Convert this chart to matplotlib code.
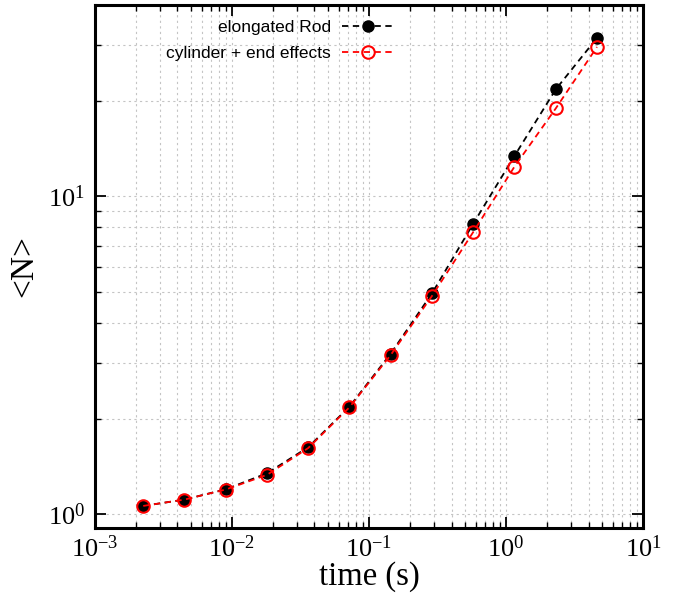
import matplotlib
matplotlib.use("Agg")
import matplotlib.pyplot as plt
from matplotlib.ticker import LogLocator, NullFormatter

# time steps (s)
time = [0.00225, 0.0045, 0.009, 0.018, 0.036, 0.072, 0.144, 0.288, 0.576, 1.152, 2.304, 4.608]
# <N> for the two models
rod = [1.062, 1.112, 1.198, 1.345, 1.625, 2.18, 3.2, 4.95, 8.2, 13.4, 21.7, 31.5]
cyl = [1.062, 1.112, 1.196, 1.33, 1.615, 2.17, 3.17, 4.86, 7.72, 12.4, 18.9, 29.5]

plt.rcParams['mathtext.fontset'] = 'stix'
plt.rcParams['axes.unicode_minus'] = False
plt.rcParams['font.family'] = ['Liberation Serif', 'DejaVu Serif']

fig = plt.figure(figsize=(6.75, 5.93), dpi=100)
ax = fig.add_axes([0.1407, 0.1096, 0.812, 0.8820])

ax.set_axisbelow(True)
ax.grid(True, which='both', linestyle=(0, (2, 3)), color='#c4c4c4', linewidth=0.8)

ax.plot(time, rod, linestyle=(0, (3.5, 2.5)), color='black', linewidth=1.3,
        marker='o', markersize=8, markerfacecolor='black', markeredgecolor='black',
        label='elongated Rod', zorder=3)
ax.plot(time, cyl, linestyle=(0, (3.5, 2.5)), color='#ff0000', linewidth=1.3,
        marker='o', markersize=9, markerfacecolor='none', markeredgecolor='#ff0000',
        markeredgewidth=1.5, label='cylinder + end effects', zorder=4)

ax.set_xscale('log')
ax.set_yscale('log')
ax.set_xlim(1e-3, 1e1)
ax.set_ylim(0.905, 40)

ax.xaxis.set_major_locator(LogLocator(base=10, numticks=10))
ax.xaxis.set_minor_locator(LogLocator(base=10, subs=range(2, 10), numticks=20))
ax.yaxis.set_minor_locator(LogLocator(base=10, subs=range(2, 10), numticks=20))
ax.xaxis.set_minor_formatter(NullFormatter())
ax.yaxis.set_minor_formatter(NullFormatter())

ax.tick_params(which='both', direction='in', top=True, right=True, labelsize=19)
ax.tick_params(which='major', length=8, width=1.3)
ax.tick_params(axis='x', which='major', pad=5)
ax.tick_params(axis='y', which='major', pad=7)
ax.tick_params(which='minor', length=4, width=1.0)
for s in ax.spines.values():
    s.set_linewidth(2.2)

ax.set_xlabel('time (s)', fontsize=23.5, labelpad=0)
ax.set_ylabel('<N>', fontsize=24, labelpad=6)

leg = ax.legend(loc='upper right', bbox_to_anchor=(0.545, 0.972), frameon=False,
                markerfirst=False, handlelength=3.0, handletextpad=0.6,
                labelspacing=0.62, borderpad=0, borderaxespad=0,
                prop={'family': 'Liberation Sans', 'size': 12.5})

fig.savefig('out.png', dpi=100)
